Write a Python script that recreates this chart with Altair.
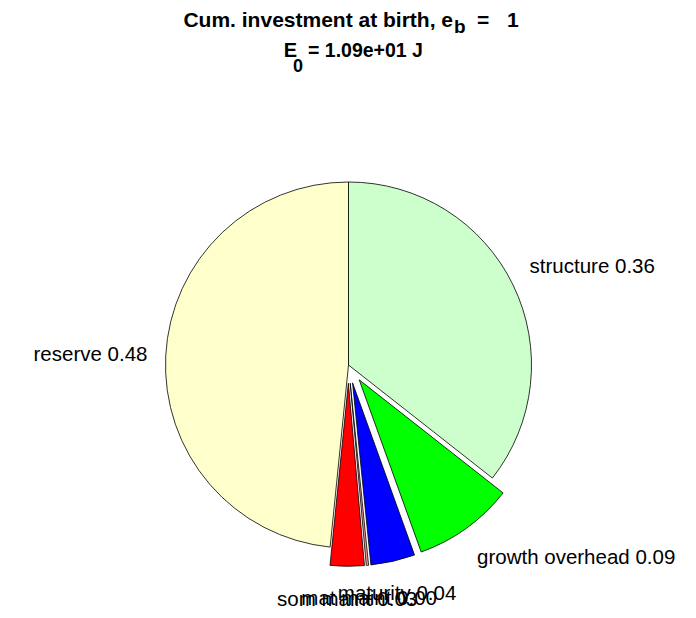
import math
import altair as alt
import pandas as pd

# ---- data ----
names = ["structure", "growth overhead", "maturity", "mat maint", "som maint", "reserve"]
fractions = [0.356, 0.089, 0.039, 0.002, 0.030, 0.484]
exploded = [False, True, True, True, True, False]
colors = ["#ccffcc", "#00ff00", "#0000ff", "#ff9999", "#ff0000", "#ffffcc"]

title_line1 = ["Cum. investment at birth, e", "b", "=", "1"]
title_line2 = ["E", "0", "= 1.09e+01 J"]

# ---- layout ----
W, H = 680, 600
CX, CY = 340.5, 357.0   # pie centre in plot pixels
R = 183.0               # pie radius in pixels
EXPLODE = 0.1
LABEL_R = 1.1
FONT = "Liberation Sans"

xdom = [-CX / R, (W - CX) / R]
ydom = [-(H - CY) / R, CY / R]

rows = []
cum = 0.0
for n, f, e, c in zip(names, fractions, exploded, colors):
    start, end = cum, cum + f
    cum = end
    mid = (start + end) / 2 * 2 * math.pi
    off = EXPLODE if e else 0.0
    sx, sy = math.sin(mid), math.cos(mid)
    lr = LABEL_R + off
    if sx > 0.3:
        align = "left"
    elif sx < -0.3:
        align = "right"
    else:
        align = "center"
    if sy > 0.3:
        base = "bottom"
    elif sy < -0.3:
        base = "top"
    else:
        base = "middle"
    rows.append(dict(name=n, start=start, end=end, color=c,
                     cx=off * sx, cy=off * sy,
                     lx=lr * sx, ly=lr * sy,
                     label=f"{n} {f:.2f}", grp=f"{align}|{base}",
                     order=len(rows)))
df = pd.DataFrame(rows)

xs = alt.Scale(domain=xdom, range=[0, W], nice=False, zero=False)
ys = alt.Scale(domain=ydom, range=[H, 0], nice=False, zero=False)

base_chart = alt.Chart(df)

arcs = base_chart.mark_arc(outerRadius=R, stroke="black", strokeWidth=0.8).encode(
    x=alt.X("cx:Q", scale=xs, axis=None),
    y=alt.Y("cy:Q", scale=ys, axis=None),
    theta=alt.Theta("start:Q", scale=alt.Scale(domain=[0, 1], range=[0, 2 * math.pi]), stack=None),
    theta2="end:Q",
    color=alt.Color("color:N", scale=None),
    order=alt.Order("order:Q"),
)

layers = [arcs]
dy_for = {"top": 5, "bottom": 0, "middle": 0}
for g in sorted(df["grp"].unique()):
    a, b = g.split("|")
    layers.append(
        base_chart.transform_filter(alt.datum.grp == g)
        .mark_text(align=a, baseline=b, dy=dy_for[b], font=FONT, fontSize=20.5, color="black")
        .encode(x=alt.X("lx:Q", scale=xs, axis=None),
                y=alt.Y("ly:Q", scale=ys, axis=None),
                text="label:N")
    )

# title pieces (main text, subscript, rest)
t1 = pd.DataFrame({"t": title_line1})
t2 = pd.DataFrame({"t": title_line2})


def piece(df_, i, x, y, align, size):
    return alt.Chart(df_).transform_filter(alt.datum.t == df_["t"][i]).mark_text(
        align=align, baseline="alphabetic", font=FONT, fontWeight="bold", fontSize=size, color="black"
    ).encode(x=alt.value(x), y=alt.value(y), text="t:N")


layers += [
    piece(t1, 0, 445, 19, "right", 21),
    piece(t1, 1, 446, 25, "left", 19),
    piece(t1, 2, 469, 19, "left", 21),
    piece(t1, 3, 499, 19, "left", 21),
    piece(t2, 0, 289, 49, "right", 20),
    piece(t2, 1, 285, 64, "left", 18),
    piece(t2, 2, 300, 49, "left", 19.5),
]

chart = (
    alt.layer(*layers)
    .properties(width=W, height=H, padding=0, background="white",
                autosize=alt.AutoSizeParams(type="none"))
    .configure_view(stroke=None, strokeWidth=0)
)

chart.save("out.html", embed_options={"renderer": "svg", "actions": False})
